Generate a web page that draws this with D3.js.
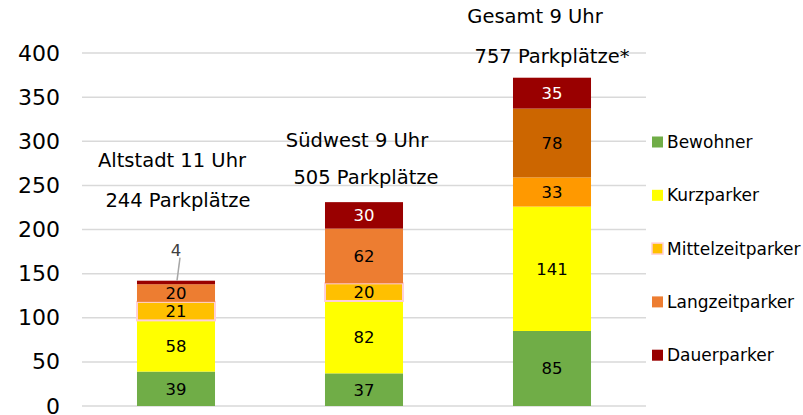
<!DOCTYPE html>
<html>
<head>
<meta charset="utf-8">
<script src="https://cdn.jsdelivr.net/npm/d3@7"></script>
<style>
    body { margin: 0; background: #ffffff; }
    text { font-family: "DejaVu Sans", Verdana, sans-serif; }
</style>
</head>
<body>
<script>
// Daten
const categories = ['Altstadt', 'Südwest', 'Gesamt'];
const seriesNames = ['Bewohner', 'Kurzparker', 'Mittelzeitparker', 'Langzeitparker', 'Dauerparker'];
const bewohner = [39, 37, 85];
const kurzparker = [58, 82, 141];
const mittelzeitparker = [21, 20, 33];
const langzeitparker = [20, 62, 78];
const dauerparker = [4, 30, 35];
const titleLines = [
    ['Altstadt 11 Uhr', '244 Parkplätze'],
    ['Südwest 9 Uhr', '505 Parkplätze'],
    ['Gesamt 9 Uhr', '757 Parkplätze*']
];
const yTicks = [0, 50, 100, 150, 200, 250, 300, 350, 400];

const seriesValues = [bewohner, kurzparker, mittelzeitparker, langzeitparker, dauerparker];

// Farben (Gesamt hat eigene Farben für Mittel-/Langzeitparker)
const colors = ['#70ad47', '#ffff00', '#ffc000', '#ed7d31', '#990000'];
const gesamtColors = ['#70ad47', '#ffff00', '#ff9900', '#cc6600', '#990000'];

const width = 803, height = 415;
const margin = {top: 53, right: 157, bottom: 9, left: 82};

const svg = d3.select('body')
    .append('svg')
    .attr('width', width)
    .attr('height', height);

const x = d3.scaleBand()
    .domain(categories)
    .range([margin.left, width - margin.right])
    .paddingInner(0.585)
    .paddingOuter(0.2925);

const y = d3.scaleLinear()
    .domain([0, 400])
    .range([height - margin.bottom, margin.top]);

// Gitterlinien
svg.append('g')
    .selectAll('line')
    .data(yTicks)
    .enter()
    .append('line')
    .attr('x1', margin.left)
    .attr('x2', width - margin.right)
    .attr('y1', d => y(d))
    .attr('y2', d => y(d))
    .attr('stroke', '#d9d9d9')
    .attr('stroke-width', 1.5);

// y-Achse
const yAxis = svg.append('g')
    .attr('transform', `translate(${margin.left - 22},0)`)
    .call(d3.axisLeft(y).tickValues(yTicks).tickSize(0).tickPadding(0));
yAxis.select('.domain').remove();
yAxis.selectAll('text')
    .attr('fill', '#000000')
    .style('font-size', '22px');

// gestapelte Daten
const table = categories.map((c, i) => {
    const row = {cat: c};
    seriesNames.forEach((s, j) => row[s] = seriesValues[j][i]);
    return row;
});
const stacked = d3.stack().keys(seriesNames)(table);

const layers = svg.append('g')
    .selectAll('g')
    .data(stacked)
    .enter()
    .append('g');

layers.selectAll('rect')
    .data(d => d.map(p => ({p, key: d.key, idx: d.index})))
    .enter()
    .append('rect')
    .attr('x', d => x(d.p.data.cat))
    .attr('width', x.bandwidth())
    .attr('y', d => y(d.p[1]))
    .attr('height', d => y(d.p[0]) - y(d.p[1]))
    .attr('fill', d => d.p.data.cat === 'Gesamt' ? gesamtColors[d.idx] : colors[d.idx])
    .attr('stroke', d => (d.key === 'Mittelzeitparker' && d.p.data.cat !== 'Gesamt') ? '#ffd0d8' : 'none')
    .attr('stroke-width', 2);

// Werte
layers.selectAll('text')
    .data(d => d.map(p => ({p, key: d.key})))
    .enter()
    .append('text')
    .attr('x', d => x(d.p.data.cat) + x.bandwidth() / 2)
    .attr('y', d => {
        const v = d.p[1] - d.p[0];
        if (v < 10) return y(d.p[1]) - 31;
        return (y(d.p[0]) + y(d.p[1])) / 2;
    })
    .attr('dy', '0.36em')
    .attr('text-anchor', 'middle')
    .style('font-size', '16.5px')
    .attr('fill', d => {
        const v = d.p[1] - d.p[0];
        if (d.key === 'Dauerparker' && v >= 10) return '#ffffff';
        return v < 10 ? '#404040' : '#000000';
    })
    .text(d => d.p[1] - d.p[0]);

// Führungslinie für kleinen Wert
stacked[4].filter(p => p[1] - p[0] < 10).forEach(p => {
    const cx = x(p.data.cat) + x.bandwidth() / 2;
    svg.append('line')
        .attr('x1', cx + 4)
        .attr('y1', y(p[1]) - 23)
        .attr('x2', cx + 1)
        .attr('y2', y(p[1]))
        .attr('stroke', '#a6a6a6')
        .attr('stroke-width', 1.5);
});

// Titel über den Säulen
const titleOffsets = [
    {dx: [-4, 2], y: [167, 207]},
    {dx: [-7, 2], y: [147, 184]},
    {dx: [-17, 0], y: [23, 63]}
];
categories.forEach((c, i) => {
    const cx = x(c) + x.bandwidth() / 2;
    titleLines[i].forEach((t, k) => {
        svg.append('text')
            .attr('x', cx + titleOffsets[i].dx[k])
            .attr('y', titleOffsets[i].y[k])
            .attr('text-anchor', 'middle')
            .style('font-size', '19.5px')
            .attr('fill', '#000000')
            .text(t);
    });
});

// Legende
const legend = svg.append('g')
    .selectAll('g')
    .data(seriesNames)
    .enter()
    .append('g')
    .attr('transform', (d, i) => `translate(652,${142 + i * 53.3})`);
legend.append('rect')
    .attr('x', 0)
    .attr('y', -5.5)
    .attr('width', 11)
    .attr('height', 11)
    .attr('fill', (d, i) => colors[i])
    .attr('stroke', d => d === 'Mittelzeitparker' ? '#ffd0d8' : 'none')
    .attr('stroke-width', 1.5);
legend.append('text')
    .attr('x', 15)
    .attr('dy', '0.36em')
    .style('font-size', '17px')
    .attr('fill', '#000000')
    .text(d => d);
</script>
</body>
</html>
